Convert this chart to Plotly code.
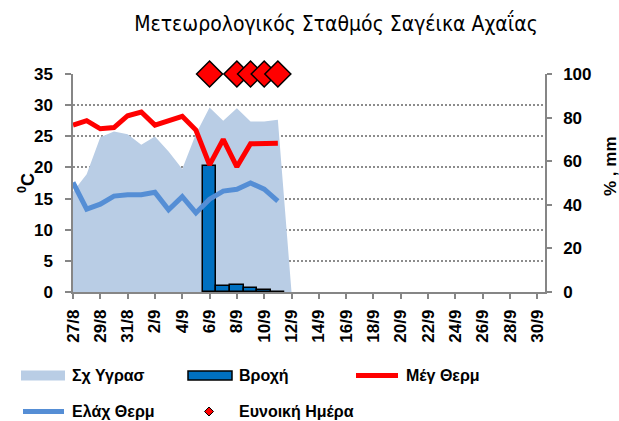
import plotly.graph_objects as go
from datetime import date

YEAR = 2023

# ---------------- data ----------------
day_labels = ["27/8", "28/8", "29/8", "30/8", "31/8", "1/9", "2/9", "3/9", "4/9",
              "5/9", "6/9", "7/9", "8/9", "9/9", "10/9", "11/9", "12/9"]
humidity = [46, 54, 71, 73.6, 72.4, 67.6, 71.3, 64.4, 56.4, 72.5,
            84.6, 78.5, 84.3, 78.2, 78.2, 79.0, 0]
temp_max = [26.8, 27.5, 26.2, 26.4, 28.3, 28.9, 26.8, 27.5, 28.2, 26.0,
            20.4, 24.5, 20.1, 23.8, 23.8, 23.9]
temp_min = [17.6, 13.3, 14.1, 15.4, 15.6, 15.6, 16.0, 13.2, 15.3, 12.7,
            14.9, 16.2, 16.5, 17.5, 16.5, 14.6]
rain_labels = ["6/9", "7/9", "8/9", "9/9", "10/9", "11/9"]
rain = [58.0, 2.8, 3.2, 1.7, 1.1, 0.2]
good_labels = ["6/9", "8/9", "9/9", "10/9", "11/9"]
good_level = [100, 100, 100, 100, 100]
tick_labels = ["27/8", "29/8", "31/8", "2/9", "4/9", "6/9", "8/9", "10/9", "12/9",
               "14/9", "16/9", "18/9", "20/9", "22/9", "24/9", "26/9", "28/9", "30/9"]

names = ["Σχ Υγρασ", "Βροχή", "Μέγ Θερμ", "Ελάχ Θερμ", "Ευνοική Ημέρα"]
title = "Μετεωρολογικός Σταθμός Σαγέικα Αχαΐας"


def to_date(lbl):
    d, m = lbl.split("/")
    return date(YEAR, int(m), int(d)).isoformat()


days = [to_date(s) for s in day_labels]
rain_days = [to_date(s) for s in rain_labels]
good_days = [to_date(s) for s in good_labels]
tick_vals = [to_date(s) for s in tick_labels]

# ---------------- style ----------------
C_HUM = "#B9CDE5"
C_RAIN = "#0070C0"
C_MAX = "#FF0000"
C_MIN = "#558ED5"
C_AX = "#868686"
FONT = "Liberation Sans, Arial, sans-serif"

W, H = 619, 421
L, R, T, B = 73, 545, 74, 292


def px(x):
    return (x - L) / (R - L)


def py(y):
    return (B - y) / (B - T)


fig = go.Figure()

# humidity area (right axis, main layer)
fig.add_trace(go.Scatter(x=days, y=humidity, name=names[0], mode="lines",
                         fill="tozeroy", fillcolor=C_HUM,
                         line=dict(width=0, color=C_HUM), yaxis="y",
                         showlegend=False))
# rain bars (hidden overlay with same 0-100 scale, drawn above the area)
fig.add_trace(go.Bar(x=rain_days, y=rain, name=names[1], yaxis="y2",
                     width=86400000,
                     marker=dict(color=C_RAIN, line=dict(color="black", width=1.5)),
                     showlegend=False))
# temperatures (left axis, overlaying)
fig.add_trace(go.Scatter(x=days[:len(temp_max)], y=temp_max, name=names[2],
                         mode="lines", yaxis="y3",
                         line=dict(color=C_MAX, width=5), showlegend=False))
fig.add_trace(go.Scatter(x=days[:len(temp_min)], y=temp_min, name=names[3],
                         mode="lines", yaxis="y3",
                         line=dict(color=C_MIN, width=5), showlegend=False))
# favourable days
fig.add_trace(go.Scatter(x=good_days, y=good_level, name=names[4], mode="markers",
                         yaxis="y2", cliponaxis=False,
                         marker=dict(symbol="diamond", size=20, color="#FF0000",
                                     line=dict(color="black", width=1.5)),
                         showlegend=False))

tickfont = dict(family=FONT, size=17, color="black", weight="bold")

fig.update_layout(
    width=W, height=H, autosize=False,
    margin=dict(l=L, r=W - R, t=T, b=H - B, pad=0),
    paper_bgcolor="white", plot_bgcolor="white",
    bargap=0,
    title=dict(text=title, x=336 / W, xref="container", xanchor="center",
               y=1 - 24 / H, yref="container", yanchor="middle",
               font=dict(family="DejaVu Sans Condensed, Arial Narrow, sans-serif",
                         size=21, color="black")),
    xaxis=dict(type="date", range=[days[0], f"{YEAR}-09-30 13:30"],
               tickvals=tick_vals, ticktext=tick_labels, tickangle=-90,
               tickfont=tickfont, showgrid=False, zeroline=False,
               showline=True, linecolor=C_AX, linewidth=1.5,
               ticks="outside", ticklen=5, tickcolor=C_AX, tickwidth=1.5,
               ticklabelstandoff=4),
    yaxis=dict(side="right", range=[0, 100], tickvals=[0, 20, 40, 60, 80, 100],
               tickfont=tickfont, showgrid=False, zeroline=False,
               showline=True, linecolor=C_AX, linewidth=1.5,
               ticks="outside", ticklen=5, tickcolor=C_AX, tickwidth=1.5,
               ticklabelstandoff=8),
    yaxis2=dict(overlaying="y", side="right", range=[0, 100], visible=False,
                showgrid=False, zeroline=False),
    yaxis3=dict(side="left", overlaying="y", range=[0, 35],
                tickvals=[0, 5, 10, 15, 20, 25, 30, 35],
                tickfont=tickfont, showgrid=True, gridcolor="#8C8C8C", gridwidth=1.5,
                griddash="2px,2px", zeroline=False,
                showline=True, linecolor=C_AX, linewidth=1.5,
                ticks="outside", ticklen=6, tickcolor=C_AX, tickwidth=1.5,
                ticklabelstandoff=9),
)

# axis titles
axfont = dict(family=FONT, size=18, color="black", weight="bold")
fig.add_annotation(text="<sup>0</sup>C", x=px(26), y=py(183), xref="paper", yref="paper",
                   textangle=-90, showarrow=False, font=axfont,
                   xanchor="center", yanchor="middle")
fig.add_annotation(text="% , mm", x=px(610), y=py(166), xref="paper", yref="paper",
                   textangle=-90, showarrow=False,
                   font=dict(family=FONT, size=17, color="black", weight="bold"),
                   xanchor="center", yanchor="middle")

# custom legend
legfont = dict(family=FONT, size=16, color="black", weight="bold")
row1, row2 = 375.5, 411.5
fig.add_shape(type="rect", xref="paper", yref="paper",
              x0=px(21), x1=px(65), y0=py(row1 + 5), y1=py(row1 - 5),
              fillcolor=C_HUM, line=dict(width=0))
fig.add_shape(type="rect", xref="paper", yref="paper",
              x0=px(188), x1=px(232), y0=py(row1 + 4.5), y1=py(row1 - 4.5),
              fillcolor=C_RAIN, line=dict(color="black", width=1.5))
fig.add_shape(type="line", xref="paper", yref="paper",
              x0=px(356), x1=px(398), y0=py(row1), y1=py(row1),
              line=dict(color=C_MAX, width=5))
fig.add_shape(type="line", xref="paper", yref="paper",
              x0=px(23), x1=px(64), y0=py(row2), y1=py(row2),
              line=dict(color=C_MIN, width=5))
dx, dy = 4.5, 4.5
cx, cy = 209, row2
fig.add_shape(type="path", xref="paper", yref="paper",
              path=(f"M{px(cx - dx)},{py(cy)} L{px(cx)},{py(cy - dy)} "
                    f"L{px(cx + dx)},{py(cy)} L{px(cx)},{py(cy + dy)} Z"),
              fillcolor="#FF0000", line=dict(color="black", width=1))

for name, x, y in [(names[0], 70, row1), (names[1], 237, row1), (names[2], 404, row1),
                   (names[3], 70, row2), (names[4], 237, row2)]:
    fig.add_annotation(text=name, x=px(x), y=py(y), xref="paper", yref="paper",
                       showarrow=False, font=legfont, xanchor="left", yanchor="middle")

fig.write_html("out.html", config={"displayModeBar": False},
               post_script="document.body.style.margin='0';document.body.style.overflow='hidden';")
